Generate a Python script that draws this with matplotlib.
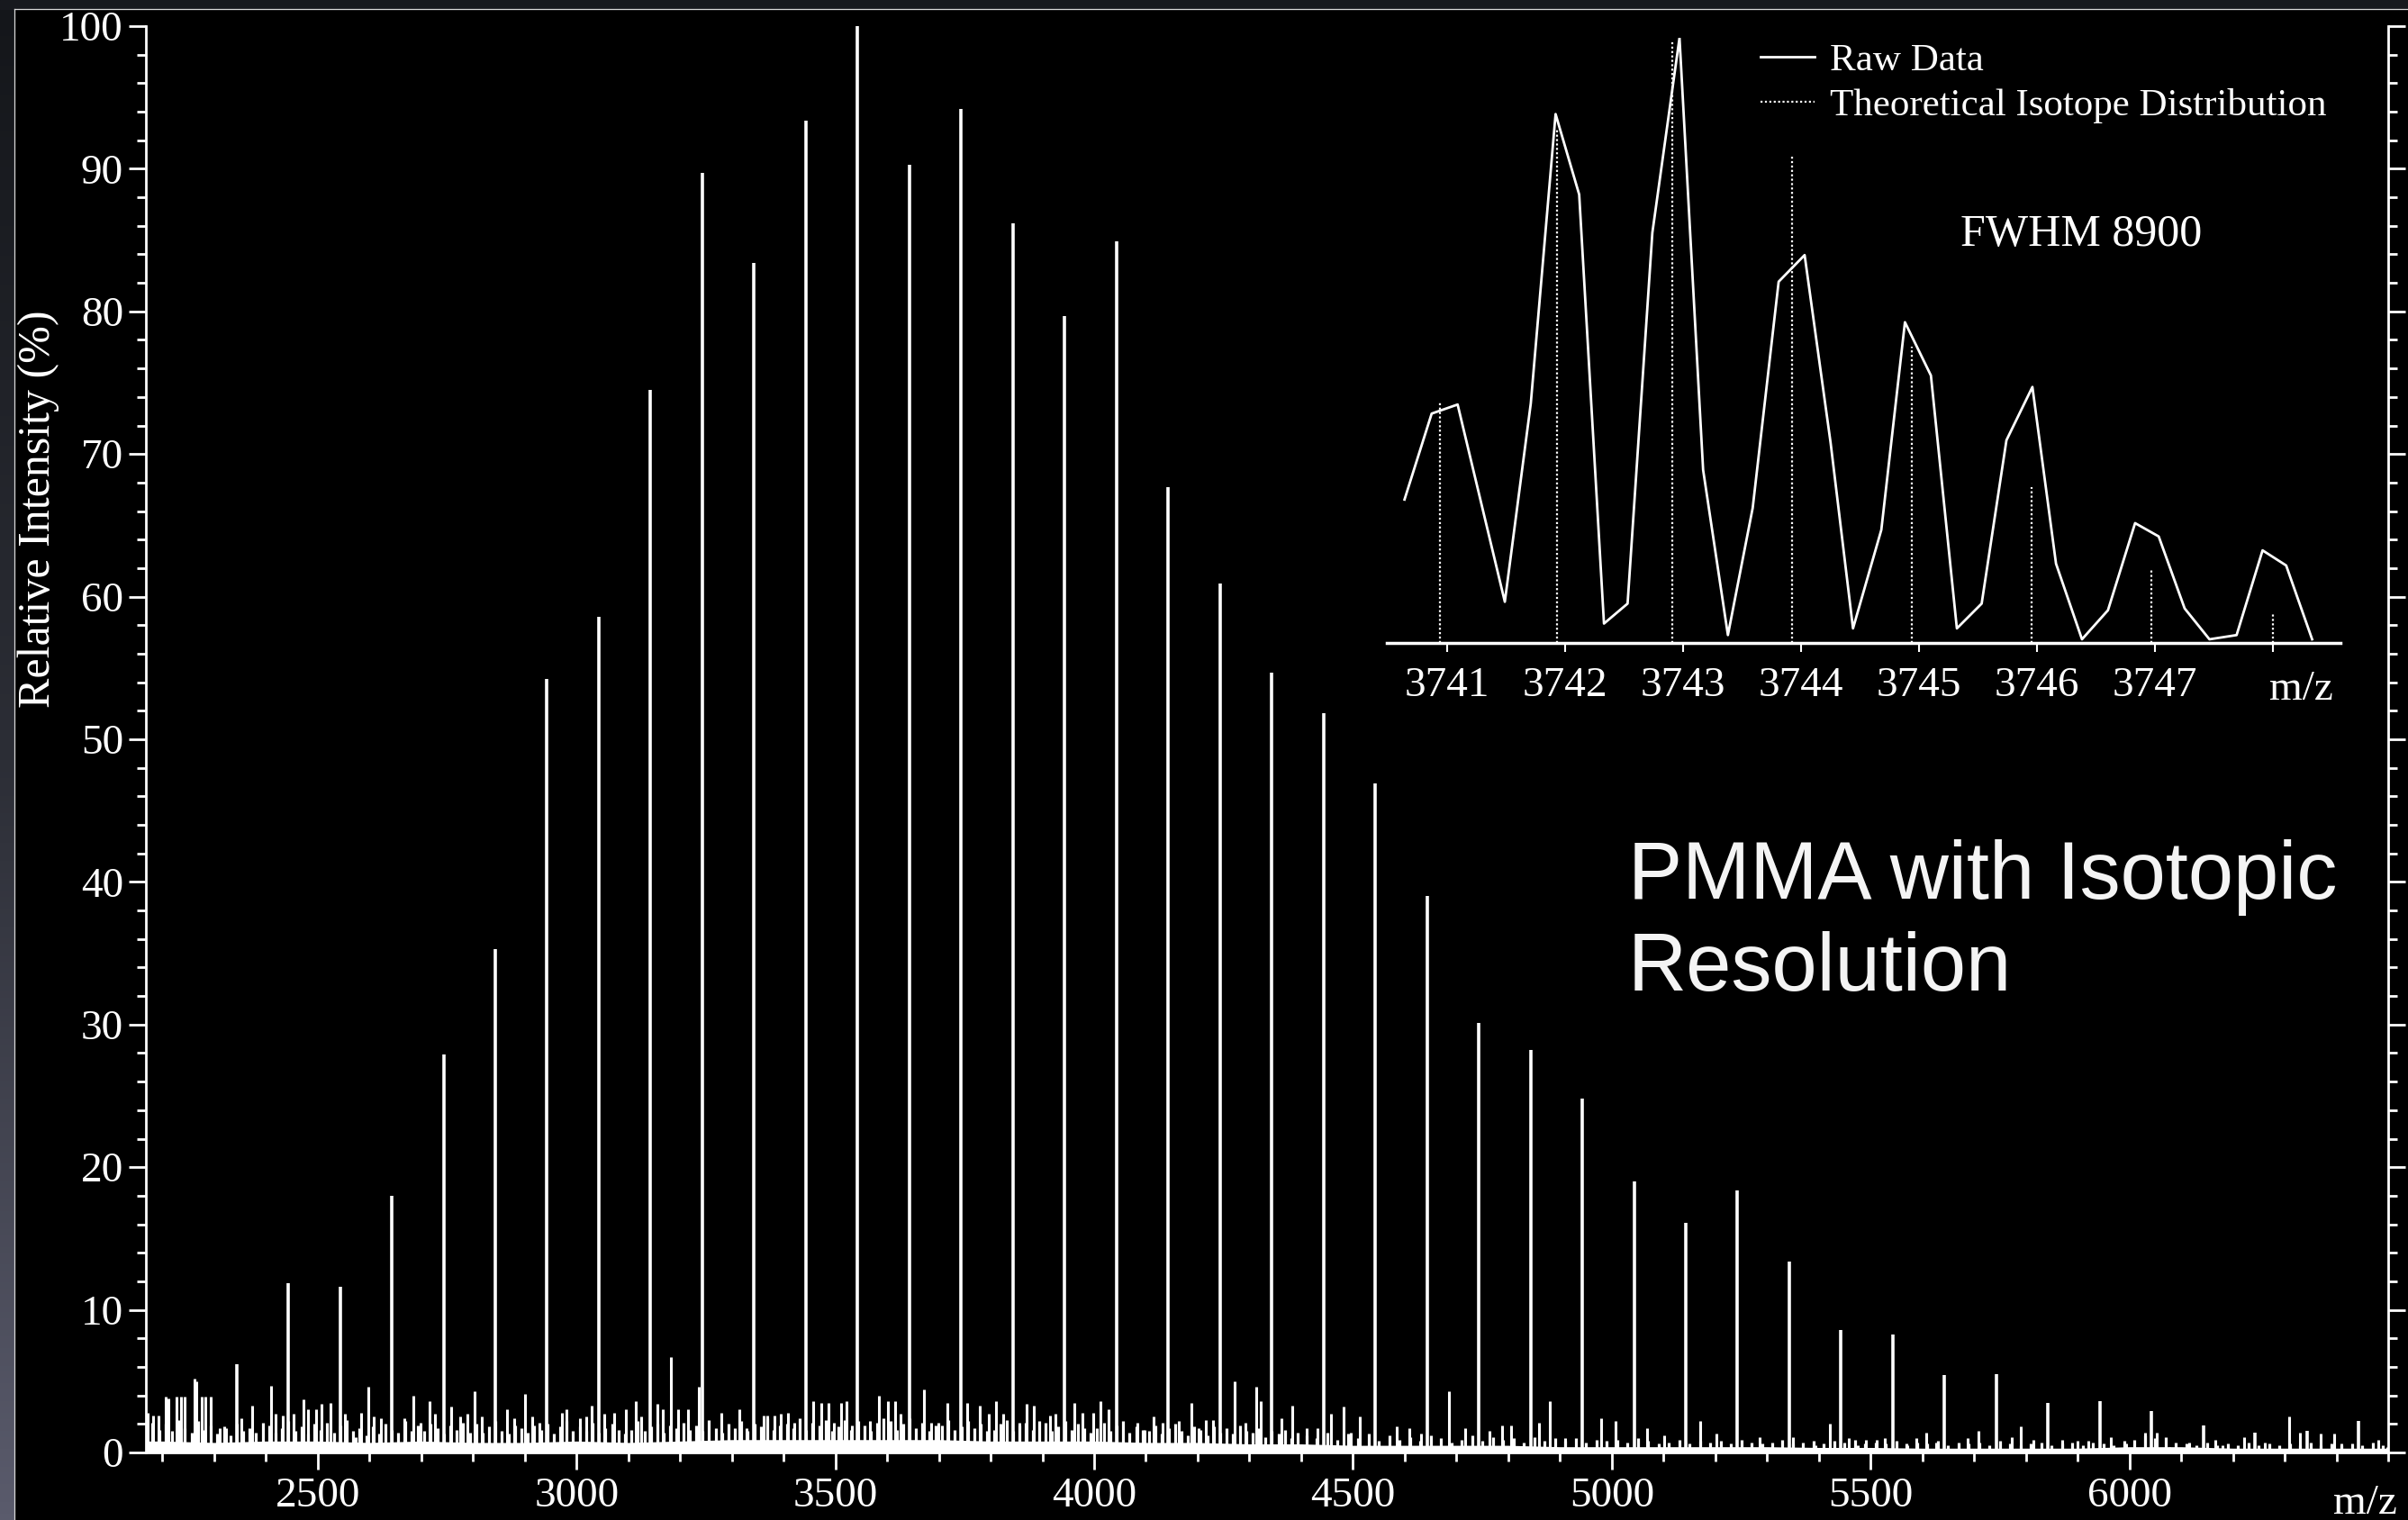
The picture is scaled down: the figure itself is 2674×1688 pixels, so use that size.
import numpy as np
import matplotlib
matplotlib.use('Agg')
import matplotlib.pyplot as plt
from matplotlib.ticker import FixedLocator, MultipleLocator, FixedFormatter
from matplotlib.colors import LinearSegmentedColormap
from matplotlib.lines import Line2D
from matplotlib.patches import Rectangle

plt.rcParams['font.family'] = ['Liberation Serif', 'DejaVu Serif']

# Main PMMA series (repeat unit 100)
peak_mz = [2343, 2443, 2543, 2643, 2743, 2843, 2943, 3043, 3143, 3243, 3343,
           3443, 3543, 3643, 3743, 3843, 3943, 4043, 4143, 4243, 4343, 4443,
           4543, 4643, 4743, 4843, 4943, 5043, 5143, 5243, 5343, 5443, 5543,
           5643, 5743, 5843, 5943, 6043, 6143, 6243, 6343, 6443]
peak_val = [6.2, 11.9, 11.6, 18.0, 27.9, 35.3, 54.2, 58.6, 74.5, 89.7, 83.4,
            93.4, 100.0, 90.3, 94.2, 86.2, 79.7, 84.9, 67.7, 60.9, 54.7, 51.8,
            46.9, 39.0, 30.1, 28.2, 24.8, 19.0, 16.1, 18.4, 13.4, 8.6, 8.3,
            5.4, 5.5, 3.5, 3.6, 2.9, 1.9, 1.4, 1.5, 2.2]

# taller noise spikes
noise_mz = [2172, 2182, 2193, 2207, 2212, 2228, 2235, 2242, 2262, 2266, 2276,
            2283, 2294, 2311, 2322, 2353, 2374, 2409, 2419, 2433, 2454, 2472,
            2482, 2496, 2507, 2524, 2552, 2573, 2583, 2597, 2608, 2622, 2667,
            2685, 2699, 2716, 2726, 2758, 2775, 2789, 2803, 2817, 2866, 2880,
            2901, 2915, 2929, 2971, 2981, 3006, 3019, 3030, 3054, 3072, 3096,
            3114, 3124, 3156, 3166, 3183, 3197, 3215, 3236, 3280, 3314, 3329,
            3361, 3368, 3382, 3395, 3409, 3420, 3458, 3472, 3486, 3497, 3511,
            3521, 3532, 3566, 3584, 3601, 3615, 3626, 3671, 3685, 3699, 3716,
            3755, 3779, 3797, 3811, 3825, 3856, 3870, 3884, 3894, 3915, 3926,
            3961, 3978, 3999, 4013, 4027, 4083, 4097, 4114, 4132, 4163, 4187,
            4201, 4215, 4229, 4271, 4292, 4313, 4322, 4361, 4382, 4411, 4432,
            4457, 4482, 4496, 4514, 4584, 4609, 4631, 4685, 4717, 4763, 4788,
            4806, 4859, 4880, 4909, 4980, 5008, 5069, 5101, 5170, 5202, 5286,
            5350, 5393, 5421, 5458, 5476, 5491, 5512, 5527, 5571, 5589, 5607,
            5626, 5688, 5708, 5772, 5790, 5815, 5870, 5899, 5921, 5965, 5994,
            6031, 6053, 6078, 6115, 6166, 6180, 6221, 6261, 6308, 6330, 6370,
            6396, 6410, 6480, 6498]
noise_val = [2.8, 2.6, 2.6, 3.9, 3.8, 3.9, 3.9, 3.9, 5.2, 5.0, 3.9,
             3.9, 3.9, 1.7, 1.7, 2.4, 3.3, 4.7, 2.7, 2.6, 2.7, 3.7,
             3.0, 3.0, 3.4, 3.5, 2.7, 1.1, 2.8, 4.6, 2.5, 2.4, 2.4,
             4.0, 2.1, 3.6, 2.7, 3.2, 2.5, 2.7, 4.3, 2.5, 3.0, 2.4,
             4.1, 2.5, 2.1, 2.8, 3.0, 2.4, 2.5, 3.3, 2.7, 2.8, 3.0,
             3.6, 2.5, 3.4, 3.0, 6.7, 3.0, 3.0, 4.6, 2.8, 3.0, 1.7,
             2.6, 2.6, 2.6, 2.7, 2.8, 2.1, 3.6, 3.5, 3.5, 2.1, 3.5,
             3.6, 1.9, 2.2, 4.0, 3.6, 3.6, 2.7, 4.4, 2.1, 2.1, 3.5,
             3.5, 3.3, 2.7, 3.6, 2.7, 2.1, 3.4, 3.3, 2.1, 2.6, 2.7,
             3.5, 2.8, 2.8, 3.6, 3.0, 2.1, 1.6, 2.5, 2.1, 2.2, 3.5,
             1.7, 2.3, 2.3, 5.0, 2.1, 4.6, 3.6, 2.4, 3.3, 1.7, 1.7,
             2.7, 3.2, 1.4, 2.5, 1.8, 1.7, 1.3, 4.3, 1.7, 1.5, 1.9,
             1.9, 2.1, 3.6, 1.0, 2.4, 2.2, 1.7, 1.2, 2.2, 1.3, 1.1,
             1.1, 0.5, 2.0, 1.0, 0.5, 0.9, 0.9, 1.0, 0.5, 1.0, 1.4,
             0.7, 1.0, 1.5, 1.1, 1.8, 0.9, 0.9, 0.8, 0.8, 1.1, 0.6,
             1.4, 1.4, 0.4, 0.7, 0.9, 0.5, 1.1, 0.7, 2.5, 1.4, 1.3,
             1.3, 0.6, 0.9, 0.4]

# dense low grass, estimated per 100 m/z block (8 readings below 4400, 5 above)
grass_lo_start = [2100, 2200, 2300, 2400, 2500, 2600, 2700, 2800, 2900, 3000, 3100, 3200,
                  3300, 3400, 3500, 3600, 3700, 3800, 3900, 4000, 4100, 4200, 4300]
grass_lo = [
    [1.5, 2.0, 1.4, 2.2, 1.8, 1.3, 2.1, 1.6],
    [2.0, 1.5, 2.3, 1.7, 1.4, 2.2, 1.6, 1.9],
    [1.3, 1.8, 1.2, 2.0, 1.5, 1.7, 1.4, 2.1],
    [1.9, 1.4, 1.7, 2.2, 1.5, 1.8, 1.3, 2.0],
    [1.6, 2.1, 1.4, 1.9, 2.3, 1.5, 1.7, 1.2],
    [1.8, 1.3, 2.0, 1.6, 1.4, 2.2, 1.5, 1.9],
    [1.5, 2.0, 1.7, 1.3, 1.9, 1.6, 2.1, 1.4],
    [2.0, 1.4, 1.8, 2.2, 1.5, 1.3, 1.9, 1.7],
    [1.4, 1.9, 1.6, 2.0, 1.3, 1.8, 2.2, 1.5],
    [1.8, 1.5, 2.1, 1.4, 1.7, 2.0, 1.6, 1.3],
    [1.6, 2.2, 1.5, 1.8, 2.0, 1.4, 1.9, 1.7],
    [2.1, 1.6, 1.9, 1.5, 2.3, 1.7, 1.4, 2.0],
    [1.7, 2.2, 1.5, 2.0, 1.8, 2.4, 1.6, 1.9],
    [2.0, 1.7, 2.4, 1.6, 2.1, 1.9, 2.3, 1.5],
    [1.8, 2.3, 1.6, 2.2, 1.9, 1.5, 2.1, 2.4],
    [2.2, 1.6, 2.0, 2.4, 1.7, 2.1, 1.5, 1.9],
    [1.9, 2.3, 1.6, 1.8, 2.2, 1.7, 2.0, 1.5],
    [1.6, 2.0, 2.3, 1.5, 1.9, 2.1, 1.6, 2.2],
    [2.1, 1.5, 1.8, 2.2, 1.6, 2.0, 1.7, 1.4],
    [1.7, 2.1, 1.5, 1.9, 2.2, 1.4, 1.8, 1.6],
    [1.5, 1.9, 1.3, 1.7, 2.0, 1.5, 1.2, 1.8],
    [1.6, 1.2, 1.8, 1.4, 1.7, 1.3, 1.9, 1.5],
    [1.4, 1.7, 1.1, 1.5, 1.3, 1.6, 1.0, 1.4],
]
grass_hi_start = [4400, 4500, 4600, 4700, 4800, 4900, 5000, 5100, 5200, 5300, 5400,
                  5500, 5600, 5700, 5800, 5900, 6000, 6100, 6200, 6300, 6400]
grass_hi = [
    [1.2, 1.0, 1.4, 0.9, 1.3],
    [1.0, 1.3, 0.8, 1.2, 0.9],
    [1.1, 0.8, 1.2, 1.0, 0.7],
    [0.9, 1.2, 0.8, 1.1, 0.9],
    [1.0, 0.7, 1.1, 0.8, 1.0],
    [0.8, 1.0, 0.7, 0.9, 0.8],
    [0.9, 0.7, 1.0, 0.8, 0.6],
    [0.7, 0.9, 0.6, 0.8, 0.7],
    [0.8, 0.6, 0.9, 0.7, 0.6],
    [0.7, 0.9, 0.6, 0.7, 0.8],
    [0.6, 0.8, 0.7, 0.9, 0.6],
    [0.7, 0.6, 0.8, 0.6, 0.7],
    [0.6, 0.8, 0.5, 0.7, 0.6],
    [0.7, 0.5, 0.8, 0.6, 0.5],
    [0.6, 0.7, 0.5, 0.6, 0.7],
    [0.5, 0.7, 0.6, 0.5, 0.8],
    [0.9, 1.2, 1.0, 1.1, 0.7],
    [0.6, 0.5, 0.7, 0.5, 0.6],
    [0.5, 0.7, 0.5, 0.6, 0.5],
    [0.6, 0.5, 0.7, 0.5, 0.6],
    [0.5, 0.6, 0.5, 0.7, 0.5],
]

# solid noise floor, one reading per 100 m/z
floor_mz = [2170, 2200, 2300, 2400, 2500, 2600, 2700, 2800, 2900, 3000, 3100,
            3200, 3300, 3400, 3500, 3600, 3700, 3800, 3900, 4000, 4100, 4200,
            4300, 4400, 4500, 4600, 4700, 4800, 4900, 5000, 5100, 5200, 5300,
            5400, 5500, 5600, 5700, 5800, 5900, 6000, 6100, 6200, 6300, 6400,
            6500]
floor_val = [0.8, 0.8, 0.7, 0.8, 0.8, 0.7, 0.8, 0.7, 0.7, 0.8, 0.7,
             0.8, 0.9, 0.9, 0.9, 0.9, 0.9, 0.8, 0.8, 0.8, 0.7, 0.7,
             0.6, 0.6, 0.5, 0.5, 0.5, 0.5, 0.4, 0.4, 0.4, 0.4, 0.4,
             0.35, 0.35, 0.3, 0.3, 0.3, 0.3, 0.4, 0.4, 0.3, 0.3, 0.3,
             0.3]

# inset: isotope cluster around m/z 3743
raw_mz = [3740.64, 3740.87, 3741.09, 3741.49, 3741.71, 3741.92, 3742.12,
          3742.33, 3742.53, 3742.74, 3742.97, 3743.17, 3743.38, 3743.59,
          3743.81, 3744.03, 3744.25, 3744.44, 3744.68, 3744.88, 3745.10,
          3745.32, 3745.53, 3745.74, 3745.96, 3746.16, 3746.38, 3746.60,
          3746.83, 3747.03, 3747.25, 3747.46, 3747.69, 3747.91, 3748.11,
          3748.33]
raw_val = [23.7, 37.9, 39.4, 6.8, 39.6, 87.4, 74.1,
           3.2, 6.5, 67.8, 100.0, 28.6, 1.3, 22.3,
           59.7, 64.1, 33.1, 2.4, 18.7, 53.0, 44.2,
           2.4, 6.5, 33.5, 42.3, 13.1, 0.6, 5.4,
           19.8, 17.6, 5.7, 0.6, 1.3, 15.3, 12.8,
           0.6]
theo_mz = [3740.94, 3741.93, 3742.91, 3743.92, 3744.94, 3745.95, 3746.97, 3748.00]
theo_val = [39.9, 84.8, 99.6, 80.4, 49.0, 25.8, 12.0, 5.0]
inset_ticks = [3741, 3742, 3743, 3744, 3745, 3746, 3747, 3748]
inset_labels = ['3741', '3742', '3743', '3744', '3745', '3746', '3747', '']

# spread the block readings across each block
grass_mz, grass_val = [], []
for start, vals in zip(grass_lo_start, grass_lo):
    for i, v in enumerate(vals):
        grass_mz.append(start + 6 + 12.5 * i)
        grass_val.append(v)
for start, vals in zip(grass_hi_start, grass_hi):
    for i, v in enumerate(vals):
        grass_mz.append(start + 10 + 20 * i)
        grass_val.append(v)

W, H = 2674, 1688
fig = plt.figure(figsize=(W / 100, H / 100), dpi=100, facecolor='black')

# slide background around the picture
strip = fig.add_axes([0, 0, 16 / W, 1])
grad = np.linspace(0, 1, 256).reshape(-1, 1)
cmap = LinearSegmentedColormap.from_list('bg', ['#14161a', '#2c2e36', '#5a5b6c'])
strip.imshow(grad, aspect='auto', cmap=cmap, extent=[0, 1, 1, 0])
strip.set_axis_off()
fig.patches.append(Rectangle((0, 1 - 10 / H), 1, 10 / H, transform=fig.transFigure,
                             color='#17191e', zorder=0))
fig.lines.append(Line2D([16 / W, 16 / W], [0, 1 - 10 / H], transform=fig.transFigure,
                        color='#d8d8d8', lw=0.9))
fig.lines.append(Line2D([16 / W, 1], [1 - 10 / H, 1 - 10 / H], transform=fig.transFigure,
                        color='#d8d8d8', lw=0.9))

# main spectrum
ax = fig.add_axes([162 / W, 75 / H, (2652 - 162) / W, (1613 - 29) / H], facecolor='black')
ax.fill_between(floor_mz, 0, floor_val, color='white', lw=0)
ax.vlines(grass_mz, 0, grass_val, color='white', lw=2.3)
ax.vlines(noise_mz, 0, noise_val, color='white', lw=2.2)
ax.vlines(peak_mz, 0, peak_val, color='white', lw=2.6)
ax.set_xlim(2168, 6500)
ax.set_ylim(0, 100)

for side in ['left', 'right', 'bottom']:
    ax.spines[side].set_color('white')
    ax.spines[side].set_linewidth(2)
ax.spines['top'].set_visible(False)

ax.xaxis.set_major_locator(FixedLocator([2500, 3000, 3500, 4000, 4500, 5000, 5500, 6000]))
ax.xaxis.set_minor_locator(MultipleLocator(100))
ax.yaxis.set_major_locator(MultipleLocator(10))
ax.yaxis.set_minor_locator(MultipleLocator(2))
ax.tick_params(which='both', direction='out', colors='white', width=2,
               right=True, labelright=False, labelsize=34)
ax.tick_params(which='major', length=14)
ax.tick_params(which='minor', length=7)
ax.tick_params(axis='y', pad=4)
ax.tick_params(axis='x', pad=5.5)

fig.text(2626 / W, 1 - 1670 / H, 'm/z', color='white', fontsize=34, ha='center', va='center')
fig.text(43 / W, 1 - 565 / H, 'Relative Intensity (%)', color='white', fontsize=36,
         rotation=90, ha='center', va='center')

# inset with the isotope pattern
ins = fig.add_axes([1540 / W, 1 - 714 / H, 1059 / W, 672 / H], facecolor='none')
raw_line, = ins.plot(raw_mz, raw_val, color='white', lw=2.0)
ins.vlines(theo_mz, 0, theo_val, colors='white', linestyles=(0, (1, 1.2)), lw=1.6)
ins.set_xlim(3740.49, 3748.57)
ins.set_ylim(0, 100)
for side in ['left', 'right', 'top']:
    ins.spines[side].set_visible(False)
ins.spines['bottom'].set_color('white')
ins.spines['bottom'].set_linewidth(2.5)
ins.set_yticks([])
ins.xaxis.set_major_locator(FixedLocator(inset_ticks))
ins.xaxis.set_major_formatter(FixedFormatter(inset_labels))
ins.tick_params(axis='x', direction='out', colors='white', width=1.5, length=7,
                labelsize=34, pad=12)
ins.text(3748.24, -0.077, 'm/z', transform=ins.get_xaxis_transform(), color='white',
         fontsize=34, ha='center', va='center')

theo_proxy = Line2D([], [], color='white', ls=(0, (1, 1.2)), lw=1.6)
ins.legend([raw_line, theo_proxy], ['Raw Data', 'Theoretical Isotope Distribution'],
           loc='upper left', bbox_to_anchor=(1955 / W, 1 - 48 / H),
           bbox_transform=fig.transFigure, frameon=False, fontsize=31,
           handlelength=1.4, handletextpad=0.4, labelspacing=0.24,
           borderpad=0, borderaxespad=0, labelcolor='white')

fig.text(2311 / W, 1 - 261 / H, 'FWHM 8900', color='white', fontsize=36,
         ha='center', va='center')

fig.text(1808 / W, 1 - 998 / H, 'PMMA with Isotopic', color='#f4f4f4', fontsize=65,
         family='Liberation Sans', ha='left', va='baseline')
fig.text(1808 / W, 1 - 1100 / H, 'Resolution', color='#f4f4f4', fontsize=65,
         family='Liberation Sans', ha='left', va='baseline')

fig.savefig('out.png', dpi=100, facecolor=fig.get_facecolor())
